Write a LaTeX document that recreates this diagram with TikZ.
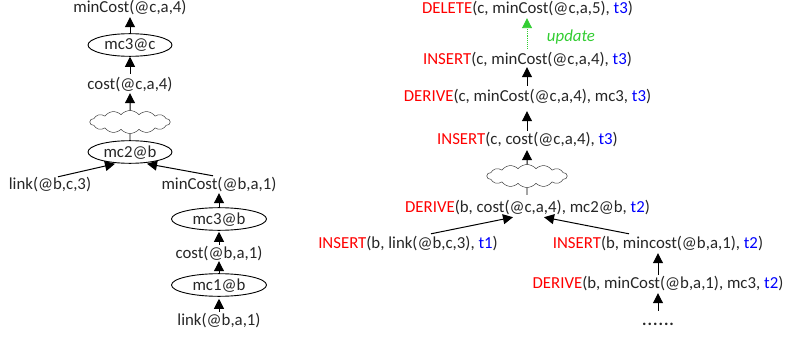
\documentclass[tikz,border=0pt]{standalone}
\usepackage{fontspec}
\setmainfont{Carlito}
\usetikzlibrary{arrows.meta,shapes.geometric,shapes.symbols}
\definecolor{kwred}{RGB}{255,0,0}
\definecolor{tblue}{RGB}{0,0,255}
\definecolor{upgreen}{RGB}{50,205,50}
\newcommand{\kw}[1]{\textcolor{kwred}{#1}}
\newcommand{\tm}[1]{\textcolor{tblue}{#1}}
\tikzset{
  lab/.style={inner sep=0pt,text height=13pt,text depth=3pt,font=\fontsize{16.8}{18}\selectfont,text=black!85},
  rule/.style={draw=black,ellipse,line width=0.9pt,inner sep=0pt,text height=13pt,text depth=3pt,minimum height=22pt,font=\fontsize{16.8}{18}\selectfont,text=black!85},
  puff/.style={draw=black!75,cloud,cloud puffs=14,cloud puff arc=100,aspect=3.6,line width=0.5pt,inner sep=0pt,minimum width=80pt,minimum height=23pt},
  arr/.style={draw=black,line width=1pt,-{Triangle[length=10pt,width=10pt]}},
  plain/.style={draw=black,line width=0.8pt},
  upd/.style={draw=upgreen,line width=0.9pt,densely dotted,-{Triangle[length=10pt,width=10pt,fill=upgreen]}}
}
\begin{document}
\begin{tikzpicture}[x=1pt,y=-1pt]
\useasboundingbox (0,0) rectangle (795,337);
% left tree
\node[lab,text height=11pt] (lmin) at (130,8.5) {minCost(@c,a,4)};
\node[rule,minimum width=84pt] (lmc3c) at (130,45) {mc3@c};
\node[lab] (lcost) at (130,84) {cost(@c,a,4)};
\node[puff] (lcloud) at (130,122) {};
\node[rule,minimum width=84pt] (lmc2) at (130,152) {mc2@b};
\node[lab] (llink) at (50,184) {link(@b,c,3)};
\node[lab] (lminb) at (219,184) {minCost(@b,a,1)};
\node[rule,minimum width=95pt,minimum height=20pt] (lmc3b) at (219,219) {mc3@b};
\node[lab] (lcostb) at (219,253) {cost(@b,a,1)};
\node[rule,minimum width=95pt,minimum height=20pt] (lmc1) at (219,285) {mc1@b};
\node[lab] (llinkb) at (219,320) {link(@b,a,1)};
\draw[arr] (lmc3c.north) -- ([yshift=-1.5pt]lmin.south);
\draw[arr] ([yshift=2pt]lcost.north) -- (lmc3c.south);
\draw[arr] (lcloud.north) -- ([yshift=-1pt]lcost.south);
\draw[plain] (lmc2.north) -- (lcloud.south);
\draw[arr] ([xshift=8pt,yshift=-1pt]llink.north) -- ([xshift=-15pt]lmc2.south);
\draw[arr] ([xshift=-6pt]lminb.north) -- ([xshift=17pt]lmc2.south);
\draw[arr] (lmc3b.north) -- ([yshift=-1pt]lminb.south);
\draw[arr] (lcostb.north) -- ([yshift=-1pt]lmc3b.south);
\draw[arr] (lmc1.north) -- (lcostb.south);
\draw[arr] (llinkb.north) -- ([yshift=-2pt]lmc1.south);
% right tree
\node[lab] (rdel) at (527.5,9) {\kw{DELETE}(c, minCost(@c,a,5), \tm{t3})};
\node[lab,text=upgreen,font=\fontsize{16.8}{18}\selectfont\itshape] (rupd) at (571,37) {update};
\node[lab] (rins) at (527.5,59) {\kw{INSERT}(c, minCost(@c,a,4), \tm{t3})};
\node[lab] (rder) at (527.5,96) {\kw{DERIVE}(c, minCost(@c,a,4), mc3, \tm{t3})};
\node[lab] (rinc) at (527.5,139) {\kw{INSERT}(c, cost(@c,a,4), \tm{t3})};
\node[puff] (rcloud) at (527,176) {};
\node[lab] (rdeb) at (527.5,207) {\kw{DERIVE}(b, cost(@c,a,4), mc2@b, \tm{t2})};
\node[lab] (rinl) at (408,243) {\kw{INSERT}(b, link(@b,c,3), \tm{t1})};
\node[lab] (rinm) at (658,243) {\kw{INSERT}(b, mincost(@b,a,1), \tm{t2})};
\node[lab] (rdem) at (658,283) {\kw{DERIVE}(b, minCost(@b,a,1), mc3, \tm{t2})};
\node[lab,font=\fontsize{16.8}{18}\selectfont\bfseries\addfontfeature{LetterSpace=6}] (rdots) at (658,320) {......};
\draw[upd] ([xshift=-0.5pt,yshift=2pt]rins.north) -- ([xshift=-0.5pt,yshift=-1pt]rdel.south);
\draw[arr] ([xshift=-0.5pt,yshift=2pt]rder.north) -- ([xshift=-0.5pt]rins.south);
\draw[arr] ([xshift=-0.5pt]rinc.north) -- ([xshift=-0.5pt,yshift=-7pt]rder.south);
\draw[arr] (rcloud.north) -- ([xshift=-0.5pt,yshift=-3pt]rinc.south);
\draw[plain] ([xshift=-0.5pt,yshift=4pt]rdeb.north) -- (rcloud.south);
\draw[arr] ([xshift=23pt,yshift=1pt]rinl.north) -- ([xshift=-14.5pt,yshift=-2pt]rdeb.south);
\draw[arr] ([xshift=-29pt,yshift=1pt]rinm.north) -- ([xshift=16.5pt,yshift=-2pt]rdeb.south);
\draw[arr] (rdem.north) -- ([yshift=-2pt]rinm.south);
\draw[arr] ([yshift=1pt]rdots.north) -- ([yshift=-2pt]rdem.south);
\end{tikzpicture}
\end{document}
